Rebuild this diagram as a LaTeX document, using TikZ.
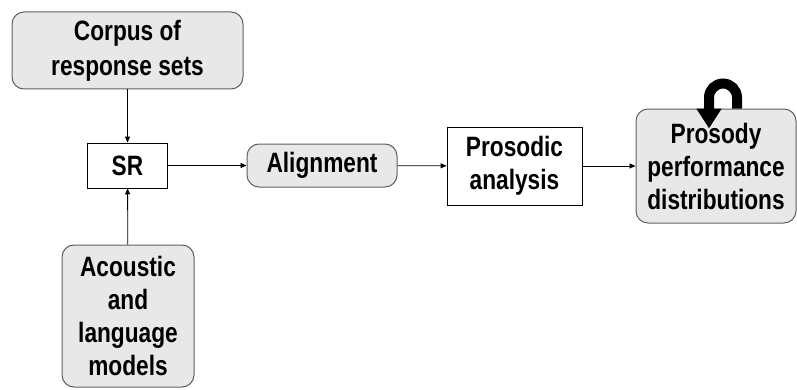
\documentclass[tikz,border=0pt]{standalone}
\usepackage{fontspec}
\setmainfont{Liberation Sans}[FakeStretch=0.81]
\usetikzlibrary{arrows.meta}
\definecolor{boxfill}{HTML}{E8E8E8}
\definecolor{boxline}{HTML}{606060}
\begin{document}
\begin{tikzpicture}[x=1pt,y=1pt,
  every node/.style={font=\bfseries\fontsize{28}{33}\selectfont, align=center, inner sep=0pt},
  softbox/.style={draw=boxline, fill=boxfill, rounded corners=12pt, line width=1pt},
  plainbox/.style={draw=black, fill=white, line width=0.8pt},
  flow/.style={draw=black, line width=0.8pt, -{Triangle[length=6pt,width=5pt]}},
  loopflow/.style={draw=black, line width=10pt, -{Triangle[length=20pt,width=24pt]}}]
  \useasboundingbox (0,0) rectangle (797,389);

  \node[softbox, minimum width=231pt, minimum height=77pt,
        font=\bfseries\fontsize{28}{35}\selectfont] (corpus) at (127.5,338.5) {Corpus of\\response sets};
  \node[plainbox, minimum width=80pt, minimum height=45pt] (sr) at (127.5,223.5) {SR};
  \node[softbox, minimum width=132pt, minimum height=142pt] (models) at (128,73) {Acoustic\\and\\language\\models};
  \node[softbox, minimum width=150pt, minimum height=43pt] (align) at (322,223.5) {Alignment};
  \node[plainbox, minimum width=135pt, minimum height=78pt] (prosodic) at (514.5,223) {Prosodic\\analysis};
  \node[softbox, minimum width=160pt, minimum height=114pt] (perf) at (716,223) {Prosody\\performance\\distributions};

  \draw[flow] (corpus) -- (sr);
  \draw[flow] (models) -- (sr);
  \draw[flow] (sr) -- (align);
  \draw[flow] (align) -- (prosodic);
  \draw[flow] (prosodic) -- (perf);

  % self loop on the distributions box
  \draw[loopflow] ([xshift=21pt]perf.north) -- ++(0,11)
    arc[start angle=0, end angle=180, radius=14] -- ++(0,-31);
\end{tikzpicture}
\end{document}
